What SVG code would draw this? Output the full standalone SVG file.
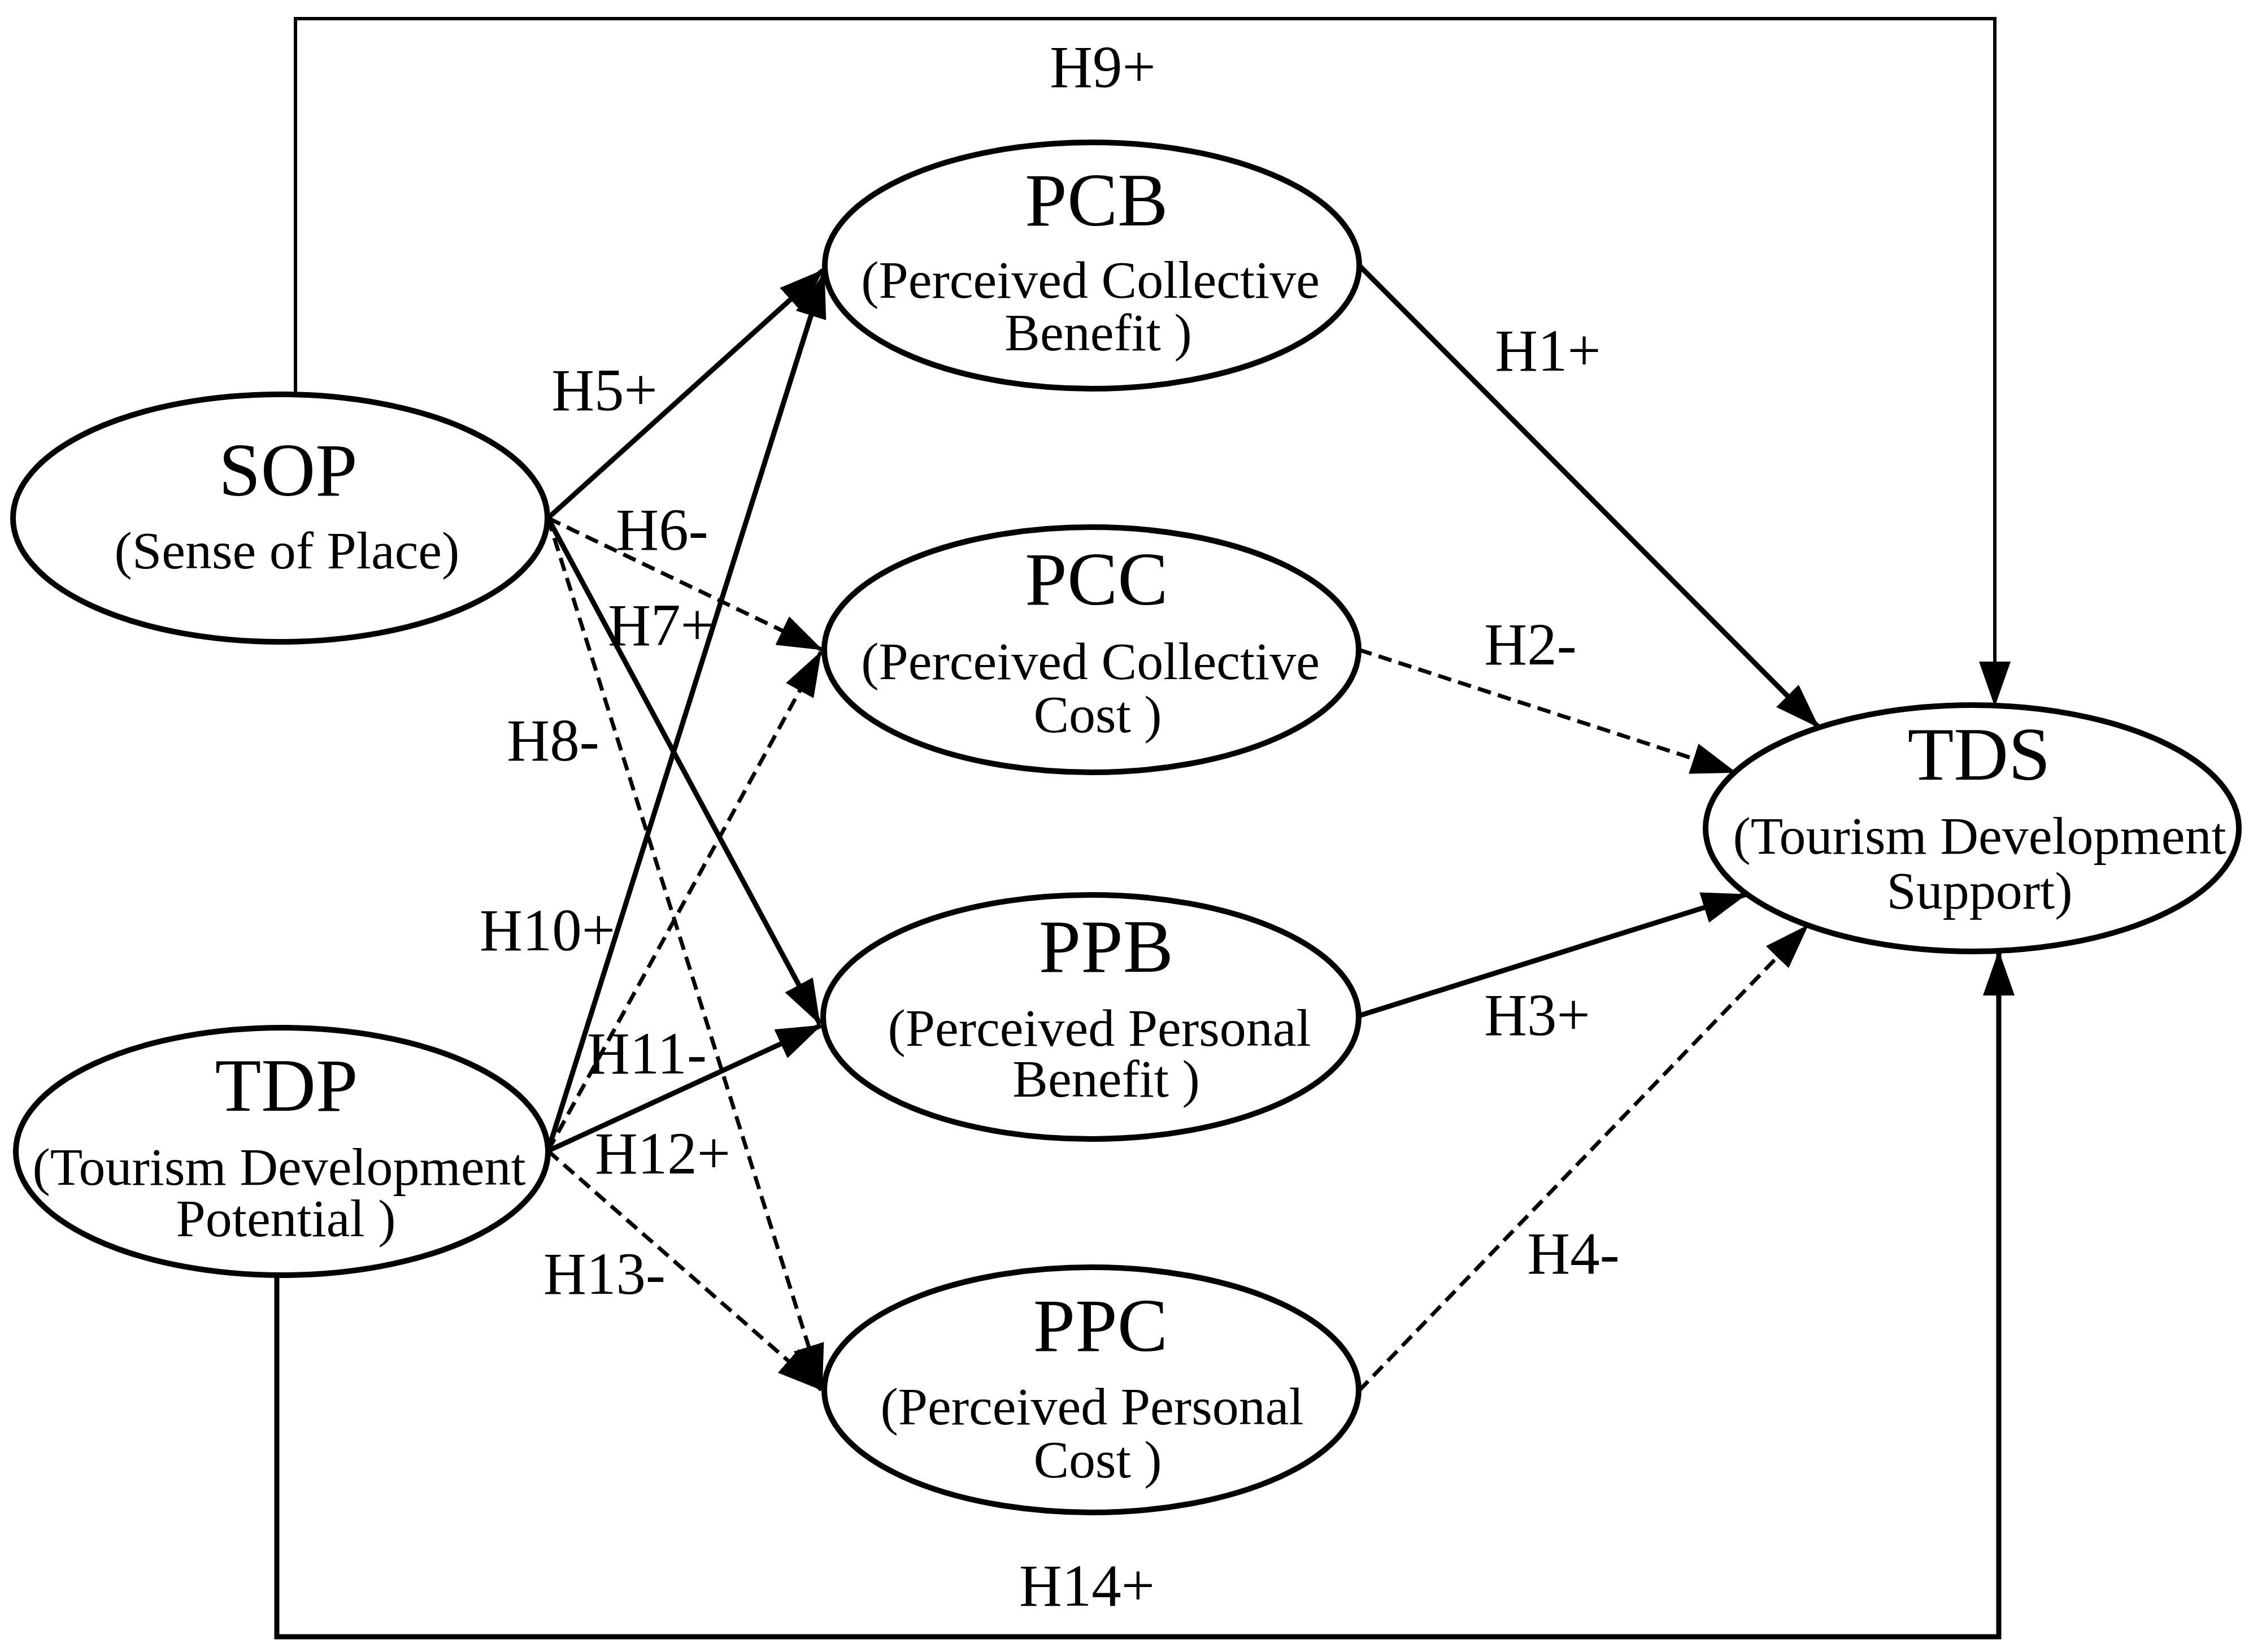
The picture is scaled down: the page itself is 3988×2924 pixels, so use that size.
<svg xmlns="http://www.w3.org/2000/svg" width="3988" height="2924" viewBox="0 0 3988 2924">
<style>
text{font-family:"Liberation Serif","Times New Roman",serif;fill:#000;text-anchor:middle}
.t{font-size:134px}
.s{font-size:94px}
.h{font-size:105px}
ellipse{fill:#fff;stroke:#000;stroke-width:10}
.c{fill:none;stroke:#000;stroke-width:9;marker-end:url(#ah)}
.d{fill:none;stroke:#000;stroke-width:7;stroke-dasharray:24 13;marker-end:url(#ah)}
.p1{fill:none;stroke:#000;stroke-width:6;marker-end:url(#ah)}
.p2{fill:none;stroke:#000;stroke-width:9;marker-end:url(#ah)}
</style>
<defs>
<marker id="ah" markerUnits="userSpaceOnUse" markerWidth="80" markerHeight="56" viewBox="0 0 80 56" refX="78" refY="28" orient="auto">
<path d="M0,0 L80,28 L0,56 z" fill="#000"/>
</marker>
</defs>
<rect width="3988" height="2924" fill="#fff"/>
<g id="SOP">
<ellipse cx="496" cy="917" rx="473" ry="219"/>
<text class="t" x="510" y="877">SOP</text>
<text class="s" x="508" y="1006">(Sense of Place)</text>
</g>
<g id="TDP">
<ellipse cx="499" cy="2038" rx="471" ry="219"/>
<text class="t" x="507" y="1966">TDP</text>
<text class="s" x="494" y="2097">(Tourism Development</text>
<text class="s" x="506" y="2188">Potential )</text>
</g>
<g id="PCB">
<ellipse cx="1933" cy="470" rx="473" ry="218"/>
<text class="t" x="1941" y="399">PCB</text>
<text class="s" x="1930" y="527">(Perceived Collective</text>
<text class="s" x="1944" y="620">Benefit )</text>
</g>
<g id="PCC">
<ellipse cx="1932" cy="1150" rx="473" ry="217"/>
<text class="t" x="1941" y="1070">PCC</text>
<text class="s" x="1930" y="1202">(Perceived Collective</text>
<text class="s" x="1943" y="1296">Cost )</text>
</g>
<g id="PPB">
<ellipse cx="1931" cy="1800" rx="474" ry="216"/>
<text class="t" x="1958" y="1720">PPB</text>
<text class="s" x="1946" y="1851">(Perceived Personal</text>
<text class="s" x="1958" y="1941">Benefit )</text>
</g>
<g id="PPC">
<ellipse cx="1932" cy="2460" rx="473" ry="217"/>
<text class="t" x="1948" y="2391">PPC</text>
<text class="s" x="1933" y="2521">(Perceived Personal</text>
<text class="s" x="1943" y="2615">Cost )</text>
</g>
<g id="TDS">
<ellipse cx="3491" cy="1466" rx="472" ry="218"/>
<text class="t" x="3503" y="1380">TDS</text>
<text class="s" x="3504" y="1511">(Tourism Development</text>
<text class="s" x="3504" y="1608">Support)</text>
</g>
<g id="connectors">
<line class="c" x1="970" y1="917" x2="1457" y2="478"/>
<line class="c" x1="970" y1="2037" x2="1459" y2="484"/>
<line class="d" x1="970" y1="917" x2="1455" y2="1150"/>
<line class="d" x1="970" y1="2037" x2="1453" y2="1154"/>
<line class="c" x1="970" y1="917" x2="1451" y2="1812"/>
<line class="c" x1="970" y1="2037" x2="1453" y2="1815"/>
<line class="d" x1="970" y1="917" x2="1455" y2="2458"/>
<line class="d" x1="970" y1="2037" x2="1454" y2="2460"/>
<line class="c" x1="2406" y1="470" x2="3219" y2="1287"/>
<line class="d" x1="2405" y1="1150" x2="3072" y2="1367"/>
<line class="c" x1="2405" y1="1798" x2="3091" y2="1583"/>
<line class="d" x1="2405" y1="2462" x2="3200" y2="1638"/>
<polyline class="p1" points="523,698 523,33 3531,33 3531,1249"/>
<polyline class="p2" points="490,2257 490,2897 3538,2897 3538,1684"/>
</g>
<g id="labels">
<text class="h" x="1952" y="154">H9+</text>
<text class="h" x="1070" y="726">H5+</text>
<text class="h" x="2740" y="656">H1+</text>
<text class="h" x="1172" y="973">H6-</text>
<text class="h" x="1170" y="1142">H7+</text>
<text class="h" x="2709" y="1176">H2-</text>
<text class="h" x="979" y="1346">H8-</text>
<text class="h" x="969" y="1682">H10+</text>
<text class="h" x="1145" y="1900">H11-</text>
<text class="h" x="2721" y="1832">H3+</text>
<text class="h" x="1173" y="2077">H12+</text>
<text class="h" x="1070" y="2290">H13-</text>
<text class="h" x="2785" y="2254">H4-</text>
<text class="h" x="1924" y="2842">H14+</text>
</g>
</svg>
